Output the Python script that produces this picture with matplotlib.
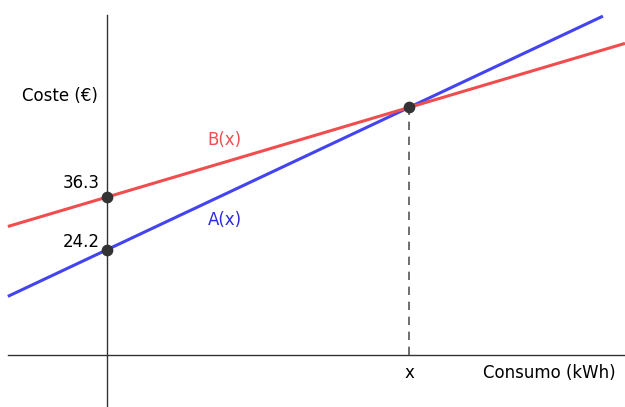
import numpy as np
import matplotlib
matplotlib.use('Agg')
import matplotlib.pyplot as plt

# Tarifas: cuota fija (€) y precio por kWh (€/kWh)
tarifas = ['A(x)', 'B(x)']
cuota_fija = [24.2, 36.3]
precio_kwh = [0.327, 0.206]
colores = ['#4343f0', '#f04e4e']

# Punto de corte
x_corte = (cuota_fija[1] - cuota_fija[0]) / (precio_kwh[0] - precio_kwh[1])
y_corte = cuota_fija[0] + precio_kwh[0] * x_corte

fig = plt.figure(figsize=(6.25, 4.07), dpi=100)
ax = fig.add_axes([0, 0, 1, 1])
ax.set_xlim(-35.4, 171.5)
ax.set_ylim(-11.95, 81.6)
ax.axis('off')

# Ejes
ax.plot([-32.8, 171.5], [0, 0], color='#333333', lw=1)
ax.plot([0, 0], [-11.95, 78.1], color='#333333', lw=1)

# Rectas
rangos = [(-32.8, 164.2), (-32.8, 171.5)]
for c, p, col, r in zip(cuota_fija, precio_kwh, colores, rangos):
    xs = np.array(r)
    ax.plot(xs, c + p * xs, color=col, lw=2.2, solid_capstyle='butt')

# Línea discontinua en el corte
ax.plot([x_corte, x_corte], [0, y_corte], color='#555555', lw=1.2, ls=(0, (5, 4)))

# Puntos
ax.scatter([0, 0, x_corte], [cuota_fija[0], cuota_fija[1], y_corte],
           s=55, color='#333333', zorder=5)

# Textos
fs = 12
ax.text(-2.3, cuota_fija[1] + 3.3, '36.3', ha='right', va='center', fontsize=fs)
ax.text(-2.3, cuota_fija[0] + 1.8, '24.2', ha='right', va='center', fontsize=fs)
ax.text(-3, 59.5, 'Coste (€)', ha='right', va='center', fontsize=fs)
ax.text(x_corte, -4.2, 'x', ha='center', va='center', fontsize=fs)
ax.text(168.5, -4.2, 'Consumo (kWh)', ha='right', va='center', fontsize=fs)
ax.text(39, 49.5, tarifas[1], ha='center', va='center', fontsize=fs, color=colores[1])
ax.text(39, 31, tarifas[0], ha='center', va='center', fontsize=fs, color='#2a2ae0')

fig.savefig('out.png', dpi=100)
